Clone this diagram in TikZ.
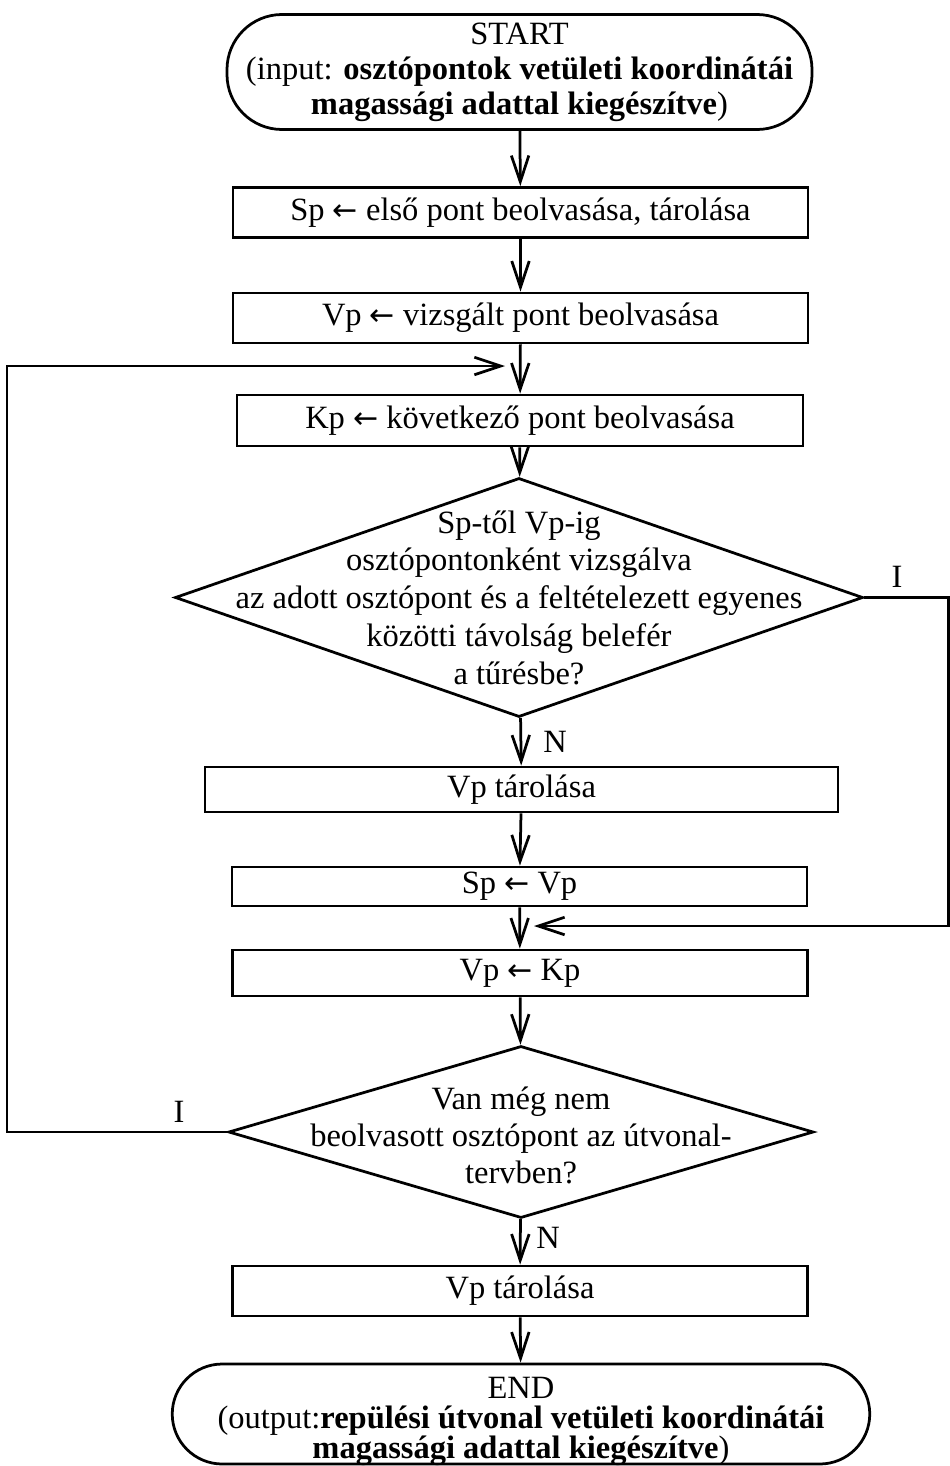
\documentclass[tikz,border=0pt]{standalone}
\usepackage{fontspec}
\setmainfont{Liberation Serif}
\newfontfamily\arrowfont{DejaVu Sans}
\newcommand{\assignarrow}{{\arrowfont\fontsize{12}{14}\selectfont ←}}
\usetikzlibrary{shapes.geometric}
\usetikzlibrary{arrows.meta}
\tikzset{box/.style = {draw, rectangle, inner sep = 0, minimum width = 230pt, minimum height = 20pt}}
\tikzset{term/.style = {draw, rectangle, inner sep = 0}}
\tikzset{dec/.style = {draw, diamond, inner sep = 0}}
\tikzset{arr/.style = {-{Straight Barb[length=10.5pt,width=7pt]}}}
\tikzset{every picture/.style={
    every path/.style={line width=1.1pt},
}}

\begin{document}
\begin{tikzpicture}[x=0.4pt, y=-0.4pt, font=\fontsize{13}{14}\selectfont]
  \useasboundingbox (0,0) rectangle (949,1466);
  % start and end
  \node[term, rounded corners=22pt, minimum width=234pt, minimum height=46pt, align=center] (start) at (519.5, 72)
    {START\\(input: \textbf{osztópontok vetületi koordinátái}\\\textbf{magassági adattal kiegészítve})};
  \node[term, rounded corners=20pt, minimum width=279pt, minimum height=40pt] (end) at (521, 1414) {};
  \node[align=center, font=\fontsize{13}{12}\selectfont] (endtxt) at (521, 1421)
    {END\\(output:\textbf{repülési útvonal vetületi koordinátái}\\\textbf{magassági adattal kiegészítve})};
  % steps
  \node[box] (sp) at (520.5, 212.5) {Sp \assignarrow{} első pont beolvasása, tárolása};
  \node[box] (vp) at (520.5, 318) {Vp \assignarrow{} vizsgált pont beolvasása};
  \node[box, minimum width=226.4pt, minimum height=20.4pt] (kp) at (520, 420.5) {Kp \assignarrow{} következő pont beolvasása};
  \node[dec, minimum width=275.2pt, minimum height=95.6pt] (tol) at (519, 597.5) {};
  \node[align=center, font=\fontsize{13}{15.1}\selectfont] (toltxt) at (519, 597.5)
    {Sp-től Vp-ig\\osztópontonként vizsgálva\\az adott osztópont és a feltételezett egyenes\\közötti távolság belefér\\a tűrésbe?};
  \node[box, minimum width=253.2pt, minimum height=18pt] (store) at (521.5, 789.5) {Vp tárolása};
  \node[box, minimum height=15.6pt] (spvp) at (519.5, 886.5) {Sp \assignarrow{} Vp};
  \node[box, minimum height=18.4pt] (vpkp) at (520, 973) {Vp \assignarrow{} Kp};
  \node[dec, minimum width=234pt, minimum height=68.8pt] (more) at (521, 1132) {};
  \node[align=center, font=\fontsize{13}{14.8}\selectfont] (moretxt) at (521, 1135)
    {Van még nem\\beolvasott osztópont az útvonal-\\tervben?};
  \node[box] (last) at (520, 1291) {Vp tárolása};
  % labels
  \node (yes1) at (897, 577) {I};
  \node (no1) at (555, 742) {N};
  \node (yes2) at (179, 1112) {I};
  \node (no2) at (548, 1238) {N};
  \coordinate (loopin) at (505, 366);
  \coordinate (skipin) at (534, 926);
  % arrows
  \draw[arr] (start) -- (sp);
  \draw[arr] (sp) -- (vp);
  \draw[arr] (vp) -- (kp);
  \draw[arr] (kp) -- (tol);
  \draw[arr] (tol) -- (store);
  \draw[arr] (store) -- (spvp);
  \draw[arr] (spvp) -- (vpkp);
  \draw[arr] (vpkp) -- (more);
  \draw[arr] (more) -- (last);
  \draw[arr] (last) -- (end);
  \draw[arr] (tol.east) -- ++(84, 0) |- (skipin);
  \draw[arr] (more.west) -- ++(-220, 0) |- (loopin);
\end{tikzpicture}
\end{document}
